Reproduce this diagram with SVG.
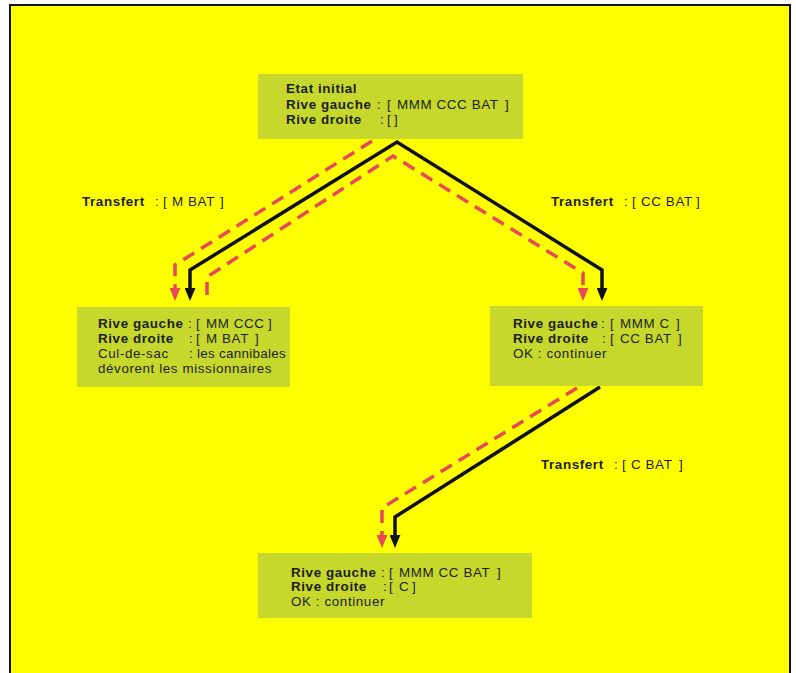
<svg xmlns="http://www.w3.org/2000/svg" width="796" height="673" viewBox="0 0 796 673">
<defs>
<style>
text{font-family:"Liberation Sans",Arial,sans-serif;font-size:13.4px;letter-spacing:0.6px;fill:#1d1d17}
.b{font-weight:bold}
.box{fill:#c6d82c}
.blk{fill:none;stroke:#111;stroke-width:3.5;stroke-linejoin:miter}
.red{fill:none;stroke:#e8475c;stroke-width:3.5;stroke-dasharray:13 8;stroke-linejoin:miter}
</style>
<marker id="ab" viewBox="0 0 12 10" refX="0" refY="5" markerWidth="13" markerHeight="11" markerUnits="userSpaceOnUse" orient="auto-start-reverse"><path d="M0,0 L12,5 L0,10 z" fill="#111"/></marker>
<marker id="ar" viewBox="0 0 12 10" refX="0" refY="5" markerWidth="13" markerHeight="11" markerUnits="userSpaceOnUse" orient="auto"><path d="M0,0 L12,5 L0,10 z" fill="#e8475c"/></marker>
</defs>
<rect x="0" y="0" width="796" height="673" fill="#fff"/>
<rect x="10" y="5" width="780" height="672" fill="#ffff00" stroke="#111" stroke-width="2"/>

<g id="connectors">
<path class="blk" d="M190,288 L190,270 L397,142 L602,270 L602,288" marker-start="url(#ab)" marker-end="url(#ab)"/>
<path class="red" d="M372,141 L175,265 L175,288" marker-end="url(#ar)"/>
<path class="red" d="M207,295 L207,277 L393,156 L583,273 L583,288" marker-end="url(#ar)"/>
<path class="blk" d="M600,387 L395,517 L395,535" marker-end="url(#ab)"/>
<path class="red" d="M577,388 L382,508 L382,535" marker-end="url(#ar)"/>
</g>

<g id="labels">
<text y="206"><tspan x="82" class="b">Transfert</tspan><tspan x="155">:</tspan><tspan x="163">[</tspan><tspan x="172">M BAT</tspan><tspan x="220">]</tspan></text>
<text y="206"><tspan x="551" class="b">Transfert</tspan><tspan x="624">:</tspan><tspan x="632">[</tspan><tspan x="641">CC BAT</tspan><tspan x="696">]</tspan></text>
<text y="469"><tspan x="541" class="b">Transfert</tspan><tspan x="614">:</tspan><tspan x="622">[</tspan><tspan x="631">C BAT</tspan><tspan x="679">]</tspan></text>
</g>

<g id="etat-initial">
<rect class="box" x="258" y="74" width="265" height="65"/>
<text x="286" y="93" class="b">Etat initial</text>
<text y="108.5"><tspan x="286" class="b">Rive gauche</tspan><tspan x="377">:</tspan><tspan x="387">[</tspan><tspan x="397">MMM CCC BAT</tspan><tspan x="505">]</tspan></text>
<text y="124"><tspan x="286" class="b">Rive droite</tspan><tspan x="380">:</tspan><tspan x="387">[</tspan><tspan x="394">]</tspan></text>
</g>

<g id="cul-de-sac">
<rect class="box" x="77" y="307" width="213" height="80"/>
<text y="328"><tspan x="98" class="b">Rive gauche</tspan><tspan x="188">:</tspan><tspan x="196">[</tspan><tspan x="206">MM CCC</tspan><tspan x="268">]</tspan></text>
<text y="343"><tspan x="98" class="b">Rive droite</tspan><tspan x="189">:</tspan><tspan x="196">[</tspan><tspan x="206">M BAT</tspan><tspan x="255">]</tspan></text>
<text y="357.5"><tspan x="98">Cul-de-sac</tspan><tspan x="189">:</tspan><tspan x="197" letter-spacing="0.3">les cannibales</tspan></text>
<text x="98" y="372.5">dévorent les missionnaires</text>
</g>

<g id="etat-ok-1">
<rect class="box" x="490" y="306" width="213" height="80"/>
<text y="328"><tspan x="513" class="b">Rive gauche</tspan><tspan x="601">:</tspan><tspan x="610">[</tspan><tspan x="620">MMM C</tspan><tspan x="676">]</tspan></text>
<text y="343"><tspan x="513" class="b">Rive droite</tspan><tspan x="602">:</tspan><tspan x="610">[</tspan><tspan x="620">CC BAT</tspan><tspan x="678">]</tspan></text>
<text x="513" y="357.5">OK : continuer</text>
</g>

<g id="etat-ok-2">
<rect class="box" x="258" y="553" width="274" height="65"/>
<text y="577"><tspan x="291" class="b">Rive gauche</tspan><tspan x="381">:</tspan><tspan x="389">[</tspan><tspan x="399">MMM CC BAT</tspan><tspan x="497">]</tspan></text>
<text y="591"><tspan x="291" class="b">Rive droite</tspan><tspan x="383">:</tspan><tspan x="389">[</tspan><tspan x="399">C</tspan><tspan x="412">]</tspan></text>
<text x="291" y="605.5">OK : continuer</text>
</g>
</svg>
